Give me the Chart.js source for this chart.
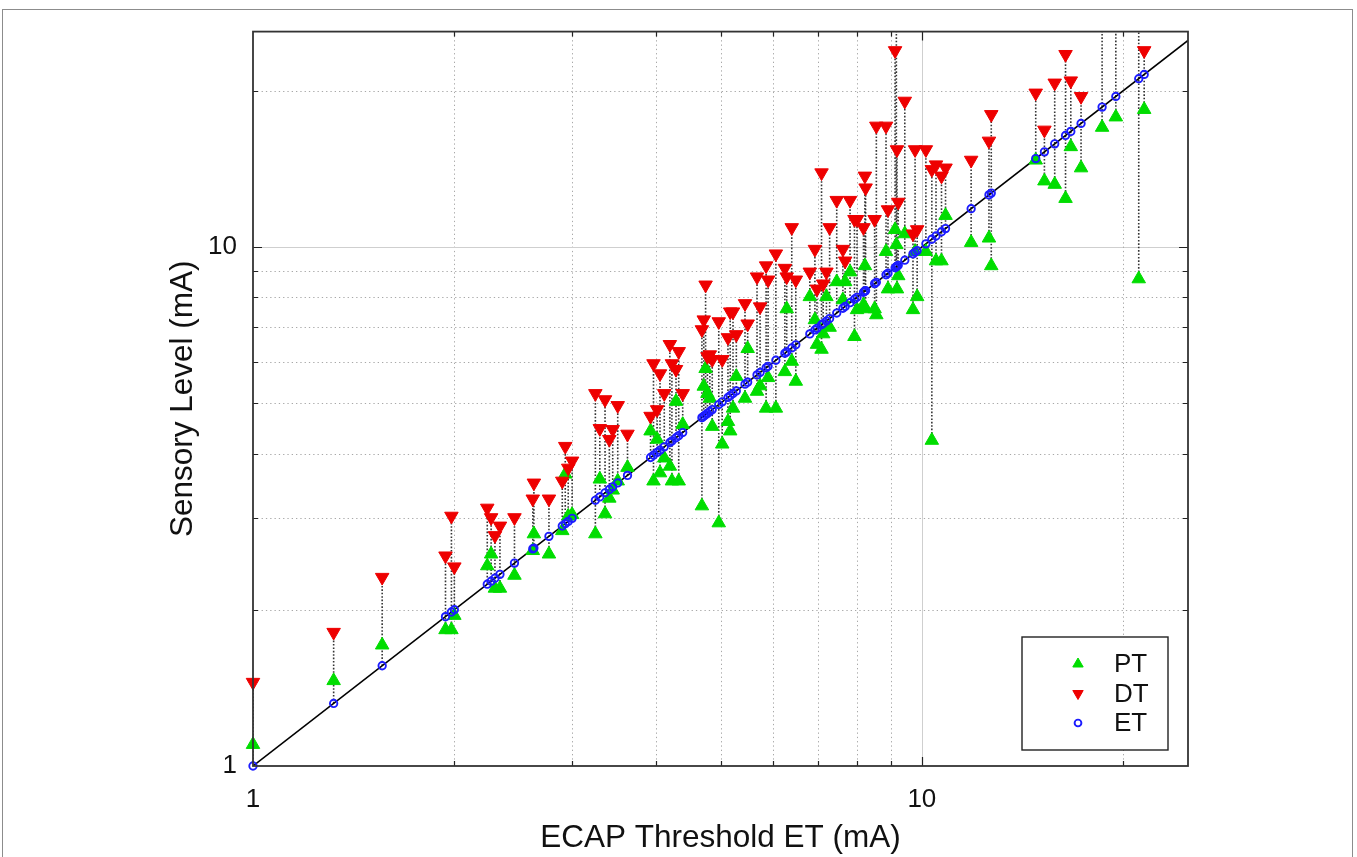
<!DOCTYPE html>
<html>
<head>
<meta charset="utf-8">
<title>Sensory Level vs ECAP Threshold</title>
<script src="https://cdn.jsdelivr.net/npm/chart.js@4.4.1/dist/chart.umd.min.js"></script>
<style>
  html, body { margin: 0; padding: 0; background: #fff; overflow: hidden; }
  #wrap { position: relative; width: 1357px; height: 857px; }
  #c { position: absolute; left: 0; top: 0; }
  #frame { position: absolute; left: 2px; top: 9px; width: 1351px; height: 900px;
           border: 1.5px solid #8c8c8c; box-sizing: border-box; pointer-events: none; }
</style>
</head>
<body>
<div id="wrap">
  <canvas id="c" width="1357" height="857"></canvas>
  <div id="frame"></div>
</div>
<script>
// ECAP threshold of each contact (mA); ET is plotted on the identity line.
const etThreshold = [
  1.00, 1.32, 1.56, 1.94, 1.98, 2.00, 2.24, 2.27, 2.30, 2.34,
  2.46, 2.62, 2.63, 2.77, 2.90, 2.93, 2.96, 3.00, 3.25, 3.30,
  3.36, 3.41, 3.45, 3.51, 3.63, 3.93, 3.97, 4.02, 4.06, 4.12,
  4.20, 4.23, 4.29, 4.33, 4.39, 4.69, 4.72, 4.75, 4.78, 4.82,
  4.86, 4.97, 5.03, 5.13, 5.17, 5.22, 5.28, 5.44, 5.49, 5.67,
  5.73, 5.85, 5.89, 6.05, 6.24, 6.28, 6.39, 6.48, 6.80, 6.92,
  6.97, 7.08, 7.12, 7.20, 7.28, 7.46, 7.62, 7.68, 7.81, 7.93,
  8.00, 8.18, 8.22, 8.24, 8.50, 8.55, 8.84, 8.90, 9.12, 9.16,
  9.18, 9.22, 9.43, 9.70, 9.77, 9.84, 10.14, 10.35, 10.50, 10.70,
  10.85, 11.85, 12.60, 12.70, 14.80, 15.25, 15.80, 16.40, 16.70, 17.30,
  18.60, 19.50, 21.10, 21.50
];
// Perception threshold (PT) for the same contacts (mA).
const ptLevel = [
  1.10, 1.46, 1.71, 1.83, 1.83, 1.95, 2.43, 2.56, 2.20, 2.20,
  2.33, 2.60, 2.80, 2.56, 2.84, 3.65, 3.03, 3.05, 2.80, 3.57,
  3.06, 3.28, 3.40, 3.54, 3.76, 4.42, 3.54, 4.26, 3.67, 3.92,
  3.78, 3.54, 5.04, 3.54, 4.55, 3.17, 5.39, 5.83, 5.22, 5.11,
  4.51, 2.94, 4.17, 4.61, 4.42, 4.89, 5.63, 5.11, 6.37, 5.27,
  5.40, 4.89, 5.60, 4.89, 5.75, 7.60, 6.02, 5.51, 8.02, 7.24,
  6.49, 6.35, 6.80, 8.02, 7.00, 8.57, 7.91, 8.57, 8.95, 6.72,
  7.57, 7.74, 9.20, 7.60, 7.60, 7.40, 9.80, 8.30, 10.80, 10.10,
  8.30, 8.80, 10.60, 7.57, 9.80, 8.02, 9.80, 4.24, 9.40, 9.40,
  11.50, 10.20, 10.40, 9.20, 14.70, 13.40, 13.20, 12.40, 15.60, 14.20,
  17.00, 17.80, 8.68, 18.40
];
// Discomfort threshold (DT) for the same contacts (mA).
const dtLevel = [
  1.45, 1.81, 2.31, 2.54, 3.03, 2.42, 3.14, 3.01, 2.78, 2.90,
  3.01, 3.27, 3.51, 3.27, 3.54, 4.13, 3.75, 3.87, 5.22, 4.47,
  5.08, 4.26, 4.45, 4.95, 4.36, 4.72, 5.96, 4.86, 5.70, 5.22,
  6.49, 5.96, 5.81, 6.29, 5.22, 6.93, 7.24, 8.45, 6.15, 6.20,
  6.07, 7.18, 6.07, 6.69, 7.50, 7.50, 6.78, 7.78, 7.11, 8.76,
  7.67, 9.20, 8.64, 9.70, 9.10, 8.76, 10.90, 8.64, 8.95, 9.90,
  8.30, 13.90, 8.49, 8.95, 10.90, 12.30, 9.90, 9.40, 12.30, 11.30,
  11.30, 10.90, 13.70, 13.00, 11.30, 17.10, 17.10, 11.80, 23.90, 30.00,
  15.40, 12.20, 19.10, 10.60, 15.40, 10.80, 15.40, 14.10, 14.40, 13.70,
  14.20, 14.70, 16.00, 18.00, 19.80, 16.80, 20.70, 23.50, 20.90, 19.50,
  28.00, 30.00, 29.00, 23.90
];

// Axis limits and tick marks (both axes logarithmic).
const axisMin = 1;
const xAxisMax = 25;
const yAxisMax = 26;
const axisTicks = [1, 2, 3, 4, 5, 6, 7, 8, 9, 10, 20];
const labelledTicks = [1, 10];

const FONT = '"Liberation Sans", Arial, Helvetica, sans-serif';
const GREEN = '#00dd00';
const RED = '#ee0000';
const BLUE = '#1c1cff';

const toPoints = ys => etThreshold.map((x, i) => ({ x: x, y: ys[i] }));

// Grid, PT–DT connectors, box frame with inward ticks, and the in-plot legend.
const figureDecor = {
  id: 'figureDecor',
  beforeDatasetsDraw(chart) {
    const { ctx, chartArea: a, scales: { x, y } } = chart;
    ctx.save();
    ctx.lineWidth = 1;
    axisTicks.forEach(v => {
      const major = labelledTicks.includes(v);
      ctx.strokeStyle = major ? '#cfcfcf' : '#a8a8a8';
      ctx.setLineDash(major ? [] : [1.3, 3]);
      if (v > axisMin && v < xAxisMax) {
        const px = Math.round(x.getPixelForValue(v)) + 0.5;
        ctx.beginPath(); ctx.moveTo(px, a.top); ctx.lineTo(px, a.bottom); ctx.stroke();
      }
      if (v > axisMin && v < yAxisMax) {
        const py = Math.round(y.getPixelForValue(v)) + 0.5;
        ctx.beginPath(); ctx.moveTo(a.left, py); ctx.lineTo(a.right, py); ctx.stroke();
      }
    });
    // vertical dotted connector through PT, ET and DT of each contact
    ctx.beginPath();
    ctx.rect(a.left, a.top, a.right - a.left, a.bottom - a.top);
    ctx.clip();
    ctx.strokeStyle = 'rgba(30,30,30,0.9)';
    ctx.lineWidth = 1.6;
    ctx.setLineDash([1.6, 1.8]);
    etThreshold.forEach((et, i) => {
      const lo = Math.min(et, ptLevel[i], dtLevel[i]);
      const hi = Math.max(et, ptLevel[i], dtLevel[i]);
      const px = x.getPixelForValue(et);
      ctx.beginPath();
      ctx.moveTo(px, y.getPixelForValue(lo));
      ctx.lineTo(px, y.getPixelForValue(hi));
      ctx.stroke();
    });
    ctx.restore();
  },
  afterDatasetsDraw(chart) {
    const { ctx, chartArea: a, scales: { x, y } } = chart;
    ctx.save();
    // inward tick marks on all four sides
    ctx.strokeStyle = '#222';
    ctx.lineWidth = 1.2;
    ctx.setLineDash([]);
    axisTicks.forEach(v => {
      const len = labelledTicks.includes(v) ? 9 : 5;
      if (v > axisMin && v < xAxisMax) {
        const px = Math.round(x.getPixelForValue(v)) + 0.5;
        ctx.beginPath();
        ctx.moveTo(px, a.bottom); ctx.lineTo(px, a.bottom - len);
        ctx.moveTo(px, a.top); ctx.lineTo(px, a.top + len);
        ctx.stroke();
      }
      if (v > axisMin && v < yAxisMax) {
        const py = Math.round(y.getPixelForValue(v)) + 0.5;
        ctx.beginPath();
        ctx.moveTo(a.left, py); ctx.lineTo(a.left + len, py);
        ctx.moveTo(a.right, py); ctx.lineTo(a.right - len, py);
        ctx.stroke();
      }
    });
    // axes box
    ctx.strokeStyle = '#333';
    ctx.lineWidth = 1.8;
    ctx.strokeRect(a.left, a.top, a.right - a.left, a.bottom - a.top);

    // legend box in the lower right corner of the axes
    const bw = 146, bh = 113;
    const bx = a.right - 20 - bw, by = a.bottom - 16 - bh;
    ctx.fillStyle = '#fff';
    ctx.fillRect(bx, by, bw, bh);
    ctx.strokeStyle = '#222';
    ctx.lineWidth = 1.4;
    ctx.strokeRect(bx, by, bw, bh);
    const entries = chart.data.datasets.filter(d => d.inLegend);
    entries.forEach((d, k) => {
      const ry = by + 27 + k * 29.5;
      ctx.fillStyle = d.backgroundColor;
      ctx.strokeStyle = d.borderColor;
      ctx.lineWidth = d.borderWidth;
      Chart.helpers.drawPoint(ctx, {
        pointStyle: d.pointStyle,
        rotation: d.rotation || 0,
        radius: d.legendRadius,
        borderWidth: d.borderWidth
      }, bx + 56, ry);
      ctx.fillStyle = '#111';
      ctx.font = '26px ' + FONT;
      ctx.textAlign = 'left';
      ctx.textBaseline = 'middle';
      ctx.fillText(d.label, bx + 92, ry + 1);
    });
    ctx.restore();
  }
};

const tickFont = { family: FONT, size: 26 };

new Chart(document.getElementById('c'), {
  type: 'scatter',
  data: {
    datasets: [
      {
        label: 'ET', inLegend: true, order: 1,
        data: toPoints(etThreshold),
        pointStyle: 'circle', pointRadius: 3.7, legendRadius: 3.4,
        backgroundColor: 'rgba(0,0,0,0)', borderColor: BLUE, borderWidth: 1.9,
        clip: { left: 8, bottom: 8, top: 0, right: 8 }
      },
      {
        label: 'DT', inLegend: true, order: 2,
        data: toPoints(dtLevel),
        pointStyle: 'triangle', rotation: 180, pointRadius: 7.8, legendRadius: 6,
        backgroundColor: RED, borderColor: RED, borderWidth: 1,
        clip: { left: 8, bottom: 8, top: 0, right: 8 }
      },
      {
        label: 'PT', inLegend: true, order: 3,
        data: toPoints(ptLevel),
        pointStyle: 'triangle', pointRadius: 7.8, legendRadius: 6,
        backgroundColor: GREEN, borderColor: GREEN, borderWidth: 1,
        clip: { left: 8, bottom: 8, top: 0, right: 8 }
      },
      {
        label: 'identity', type: 'line', inLegend: false, order: 4,
        data: [{ x: axisMin, y: axisMin }, { x: xAxisMax, y: xAxisMax }],
        borderColor: '#000', borderWidth: 1.5, pointRadius: 0, fill: false
      }
    ].sort((p, q) => {
      const rank = { PT: 0, DT: 1, ET: 2, identity: 3 };
      return rank[p.label] - rank[q.label];
    })
  },
  options: {
    responsive: false,
    animation: false,
    events: [],
    layout: { padding: { left: 0, top: 30, right: 169, bottom: 0 } },
    plugins: { legend: { display: false }, tooltip: { enabled: false } },
    scales: {
      x: {
        type: 'logarithmic', position: 'bottom', min: axisMin, max: xAxisMax,
        afterBuildTicks: s => { s.ticks = axisTicks.map(v => ({ value: v, major: labelledTicks.includes(v) })); },
        afterFit: s => { s.height = 91; },
        grid: { display: false, drawTicks: false },
        border: { display: false },
        ticks: {
          autoSkip: false, maxRotation: 0, minRotation: 0, padding: 18, color: '#111', font: tickFont,
          callback: v => labelledTicks.includes(v) ? String(v) : ''
        },
        title: {
          display: true, text: 'ECAP Threshold ET (mA)', color: '#111',
          font: { family: FONT, size: 31.5 }, padding: { top: 0, bottom: 0 }
        }
      },
      y: {
        type: 'logarithmic', position: 'left', min: axisMin, max: yAxisMax,
        afterBuildTicks: s => { s.ticks = axisTicks.map(v => ({ value: v, major: labelledTicks.includes(v) })); },
        afterFit: s => { s.width = 253; },
        grid: { display: false, drawTicks: false },
        border: { display: false },
        ticks: {
          autoSkip: false, padding: 16, color: '#111', font: tickFont,
          callback: v => labelledTicks.includes(v) ? String(v) : ''
        },
        title: {
          display: true, text: 'Sensory Level (mA)', color: '#111',
          font: { family: FONT, size: 31.5 }, padding: { top: 164, bottom: 0 }
        }
      }
    }
  },
  plugins: [figureDecor]
});
</script>
</body>
</html>
